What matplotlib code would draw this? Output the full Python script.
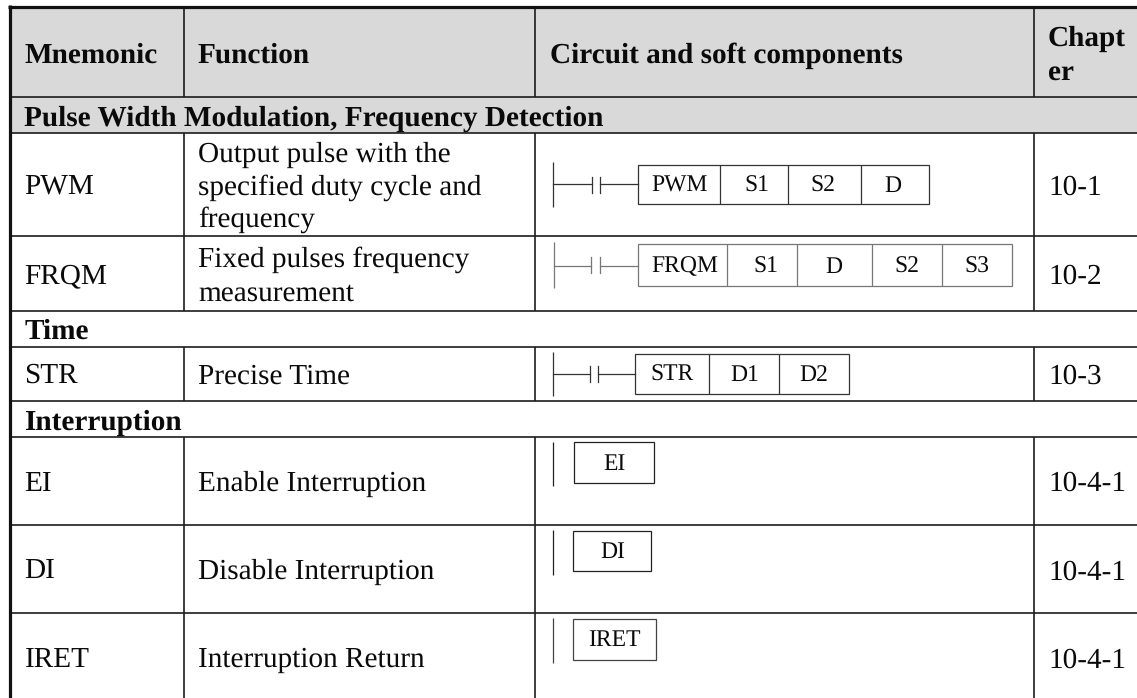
import matplotlib
matplotlib.use("Agg")
import matplotlib.pyplot as plt
from matplotlib.patches import Rectangle

W, H = 1137, 698

headers = ["Mnemonic", "Function", "Circuit and soft components"]
chapter_header = ["Chapt", "er"]
sections = ["Pulse Width Modulation, Frequency Detection", "Time", "Interruption"]
mnemonics = ["PWM", "FRQM", "STR", "EI", "DI", "IRET"]
functions = [
    ["Output pulse with the", "specified duty cycle and", "frequency"],
    ["Fixed pulses frequency", "measurement"],
    ["Precise Time"],
    ["Enable Interruption"],
    ["Disable Interruption"],
    ["Interruption Return"],
]
chapters = ["10-1", "10-2", "10-3", "10-4-1", "10-4-1", "10-4-1"]
operands = [
    ["PWM", "S1", "S2", "D"],
    ["FRQM", "S1", "D", "S2", "S3"],
    ["STR", "D1", "D2"],
    ["EI"],
    ["DI"],
    ["IRET"],
]

# layout in image pixels, text y values are baselines
col_x = [184.3, 534.7, 1033.5]
row_y = [97, 133, 236, 310.7, 346.7, 401, 437, 525, 613]
data_rows = [(133, 236), (236, 310.7), (346.7, 401), (437, 525), (525, 613), (613, 698)]
section_base = [126, 339, 430]
func_base = [[161.5, 194.5, 227], [266.7, 300.7], [383.3], [491], [579], [667]]
name_base = [195, 283, 383, 491, 579, 667]
chapter_base = [195, 284, 384, 491, 579.5, 667.5]
box_x = [
    [637.7, 720, 787.7, 860.7, 928.7],
    [637.7, 726.7, 796.7, 871.7, 941.7, 1012],
    [634.7, 709, 779.3, 849.3],
    [574.3, 653.7],
    [573.3, 651.3],
    [572.7, 656],
]
box_y = [(164.7, 204.3), (243.7, 286), (353.7, 394), (442.3, 483.3), (531, 571.3), (619.3, 660)]
box_ink = ["#333333", "#777777", "#333333", "#222222", "#222222", "#444444"]
label_x = [
    [679.7, 757, 823, 893],
    [684.7, 765.7, 834, 906.7, 977.3],
    [671.7, 745, 813.3],
    [614],
    [612.3],
    [614],
]
label_base = [192, 272.5, 381, 469.5, 557.5, 646.5]
rail = [(553, 162, 207), (553.5, 241.7, 287.7), (553, 351.7, 395.7),
        (553, 442, 486), (553, 530, 574.7), (552.7, 618.3, 663.3)]
contact = [(591.7, 600, 184, 177, 193), (591, 600, 266, 257, 273), (590, 598, 373.7, 366, 382)]

plt.rcParams["font.family"] = ["Liberation Serif", "DejaVu Serif"]
plt.rcParams["text.hinting"] = "no_hinting"

fig = plt.figure(figsize=(W / 100, H / 100), dpi=100)
ax = fig.add_axes([0, 0, 1, 1])
ax.set_xlim(0, W)
ax.set_ylim(H, 0)
ax.axis("off")

BODY = 21.1
BOX = 17
INK = "#0a0a0a"
GRID = "#1c1c1c"

# grey header band
ax.add_patch(Rectangle((10, 6.5), W - 10, 126.5, fc="#d9d9d9", ec="none", zorder=0))

# grid lines
for y in row_y:
    ax.plot([10, W], [y, y], color=GRID, lw=1.2, solid_capstyle="butt", zorder=2)
for x in col_x:
    ax.plot([x, x], [6.5, 97], color=GRID, lw=1.2, solid_capstyle="butt", zorder=2)
    for top, bottom in data_rows:
        ax.plot([x, x], [top, bottom], color=GRID, lw=1.2, solid_capstyle="butt", zorder=2)
# heavy outer edge
ax.plot([9.5, 9.5], [5, H], color="#111111", lw=2.3, solid_capstyle="butt", zorder=3)
ax.plot([8, W], [6.5, 6.5], color="#111111", lw=2.3, solid_capstyle="butt", zorder=3)

# header
for x, label in zip([24.5, 198, 549.5], headers):
    ax.text(x, 63, label, fontsize=BODY, fontweight="bold", va="baseline", color=INK)
ax.text(1048, 46, chapter_header[0], fontsize=BODY, fontweight="bold", va="baseline", color=INK)
ax.text(1048, 80.7, chapter_header[1], fontsize=BODY, fontweight="bold", va="baseline", color=INK)

# section rows
for y, label in zip(section_base, sections):
    ax.text(24.5, y, label, fontsize=BODY, fontweight="bold", va="baseline", color=INK)

# data rows
for i, name in enumerate(mnemonics):
    ax.text(24.5, name_base[i], name, fontsize=BODY, va="baseline", color=INK)
    for y, line in zip(func_base[i], functions[i]):
        ax.text(198.5, y, line, fontsize=BODY, va="baseline", color=INK)
    ax.text(1048.5, chapter_base[i], chapters[i], fontsize=BODY, va="baseline", color=INK)

# ladder symbols
for i, labels in enumerate(operands):
    x, y0, y1 = rail[i]
    ink = box_ink[i]
    ax.plot([x, x], [y0, y1], color=ink, lw=0.9, solid_capstyle="butt")
    xs = box_x[i]
    top, bottom = box_y[i]
    ax.add_patch(Rectangle((xs[0], top), xs[-1] - xs[0], bottom - top, fc="none", ec=ink, lw=0.9))
    for xd in xs[1:-1]:
        ax.plot([xd, xd], [top, bottom], color=ink, lw=0.9, solid_capstyle="butt")
    for xl, label in zip(label_x[i], labels):
        ax.text(xl, label_base[i], label, fontsize=BOX, ha="center", va="baseline", color=INK)
    if i < len(contact):
        c0, c1, yc, ct, cb = contact[i]
        ax.plot([x, c0], [yc, yc], color=ink, lw=0.9)
        ax.plot([c1, xs[0]], [yc, yc], color=ink, lw=0.9)
        ax.plot([c0, c0], [ct, cb], color=ink, lw=0.9)
        ax.plot([c1, c1], [ct, cb], color=ink, lw=0.9)

fig.savefig("out.png", dpi=100, facecolor="white")
